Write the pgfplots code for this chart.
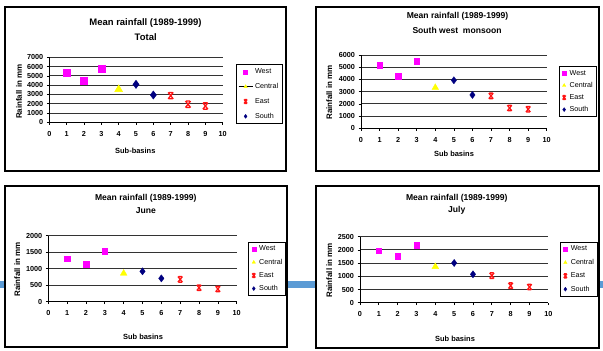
\documentclass[border=0pt]{standalone}
\usepackage{fontspec}
\setmainfont{Liberation Sans}
\usepackage{pgfplots}
\pgfplotsset{compat=1.18}

\definecolor{westc}{RGB}{255,0,255}
\definecolor{centc}{RGB}{255,255,0}
\definecolor{eastc}{RGB}{255,20,20}
\definecolor{southc}{RGB}{0,0,128}
\definecolor{barblue}{RGB}{91,155,213}

\pgfdeclareplotmark{eaststar}{%
  \pgfpathmoveto{\pgfqpoint{-0.8\pgfplotmarksize}{-\pgfplotmarksize}}%
  \pgfpathlineto{\pgfqpoint{0.8\pgfplotmarksize}{\pgfplotmarksize}}%
  \pgfpathmoveto{\pgfqpoint{-0.8\pgfplotmarksize}{\pgfplotmarksize}}%
  \pgfpathlineto{\pgfqpoint{0.8\pgfplotmarksize}{-\pgfplotmarksize}}%
  \pgfpathmoveto{\pgfqpoint{-0.6\pgfplotmarksize}{\pgfplotmarksize}}%
  \pgfpathlineto{\pgfqpoint{0.6\pgfplotmarksize}{\pgfplotmarksize}}%
  \pgfpathmoveto{\pgfqpoint{-0.6\pgfplotmarksize}{-\pgfplotmarksize}}%
  \pgfpathlineto{\pgfqpoint{0.6\pgfplotmarksize}{-\pgfplotmarksize}}%
  \pgfusepathqstroke}

\pgfplotsset{
  rain/.style={
    scale only axis, xmin=0, xmax=10, ymin=0,
    xtick={0,1,...,10},
    axis x line*=bottom, axis y line*=left,
    axis line style={black,line width=0.7pt},
    tick style={black,line width=0.7pt},
    major tick length=2.5bp,
    tick align=outside,
    ymajorgrids,
    grid style={black!80,line width=0.9pt},
    /pgf/number format/1000 sep={},
    /pgf/number format/assume math mode=true,
    ticklabel style={font=\bfseries\fontsize{7.3}{8}\selectfont},
    xticklabel style={yshift=-3bp},
    clip=false,
    legend cell align=left,
    legend style={draw=black, line width=0.9pt, fill=white, anchor=north west,
      font=\fontsize{7.2}{8.6}\selectfont, inner xsep=1.5bp, inner ysep=1.8bp},
    legend image code/.code={\path (0bp,0bp) (6bp,0bp); \draw[##1] plot coordinates {(3bp,0bp)};},
    every legend image post/.append style={mark size=2bp},
  },
  widelegend/.style={
    legend image code/.code={\path (0bp,0bp) (14bp,0bp); \draw[##1] plot coordinates {(7bp,0bp)};}},
  centline/.style={
    legend image code/.code={\draw[black,line width=0.6pt] (0bp,0bp) -- (14bp,0bp); \draw[##1] plot coordinates {(7bp,0bp)};}},
  west/.style={only marks, mark=square*, mark size=#1, mark options={fill=westc, draw=westc, line width=0.3pt}},
  cent/.style={only marks, mark=triangle*, mark size=#1, mark options={fill=centc, draw=centc, line width=0.3pt}},
  east/.style={only marks, mark=eaststar, mark size=#1, mark options={draw=eastc, line width=1.3pt}},
  south/.style={only marks, mark=diamond*, mark size=#1, mark options={fill=southc, draw=southc, line width=0.3pt}},
}

\begin{document}
\begin{tikzpicture}[x=1bp,y=1bp]
\path[use as bounding box] (0,0) rectangle (603,350);
% blue decorative bar
\fill[barblue] (0,62) rectangle (603,69);
% chart boxes
\filldraw[fill=white, draw=black, line width=1.1pt] (5,179) rectangle (286,343);
\filldraw[fill=white, draw=black, line width=1.1pt] (316,179) rectangle (599,343);
\filldraw[fill=white, draw=black, line width=1.1pt] (5,3) rectangle (287,164);
\filldraw[fill=white, draw=black, line width=1.1pt] (316,2) rectangle (599,164);

% ---------- Total ----------
\begin{axis}[rain, widelegend, at={(49.3bp,227.7bp)}, anchor=south west,
  width=173.4bp, height=65bp, ymax=7000, ytick={0,1000,...,7000},
  legend style={at={(1.075,0.892)}, row sep=4.3bp, inner xsep=2bp}]
\addplot[west=3.4bp] coordinates {(1,5350) (2,4450) (3,5750)};
\addplot[cent=4.6bp, centline] coordinates {(4,3550)};
\addplot[east=3.2bp] coordinates {(7,2870) (8,1940) (9,1760)};
\addplot[south=4.2bp] coordinates {(5,4090) (6,2940)};
\legend{West,Central,East,South}
\end{axis}

% ---------- South west monsoon ----------
\begin{axis}[rain, at={(361bp,221.7bp)}, anchor=south west,
  width=185.7bp, height=73.3bp, ymax=6000, ytick={0,1000,...,6000},
  legend style={at={(1.065,0.850)}, row sep=1.5bp}]
\addplot[west=2.8bp] coordinates {(1,5150) (2,4280) (3,5480)};
\addplot[cent=3.9bp] coordinates {(4,3330)};
\addplot[east=2.8bp] coordinates {(7,2650) (8,1660) (9,1560)};
\addplot[south=3.6bp] coordinates {(5,3930) (6,2730)};
\legend{West,Central,East,South}
\end{axis}

% ---------- June ----------
\begin{axis}[rain, at={(48.3bp,48.3bp)}, anchor=south west,
  width=188.4bp, height=66bp, ymax=2000, ytick={0,500,...,2000},
  legend style={at={(1.062,0.909)}, row sep=2.6bp}]
\addplot[west=2.8bp] coordinates {(1,1300) (2,1130) (3,1535)};
\addplot[cent=3.9bp] coordinates {(4,860)};
\addplot[east=2.8bp] coordinates {(7,677) (8,424) (9,384)};
\addplot[south=3.6bp] coordinates {(5,920) (6,707)};
\legend{West,Central,East,South}
\end{axis}

% ---------- July ----------
\begin{axis}[rain, at={(360bp,47.3bp)}, anchor=south west,
  width=188.3bp, height=66bp, ymax=2500, ytick={0,500,...,2500},
  legend style={at={(1.062,0.924)}, row sep=2.8bp}]
\addplot[west=2.8bp] coordinates {(1,1970) (2,1755) (3,2185)};
\addplot[cent=3.9bp] coordinates {(4,1365)};
\addplot[east=2.8bp] coordinates {(7,1025) (8,645) (9,595)};
\addplot[south=3.6bp] coordinates {(5,1505) (6,1075)};
\legend{West,Central,East,South}
\end{axis}

% ---------- texts ----------
\begin{scope}[every node/.style={font=\bfseries\fontsize{9.5}{11}\selectfont, inner sep=0pt}]
\node at (145.5,327.3) {Mean rainfall (1989-1999)};
\node at (145.7,313.3) {Total};
\end{scope}
\begin{scope}[every node/.style={font=\bfseries\fontsize{8.6}{10}\selectfont, inner sep=0pt}]
\node at (457.5,333.3) {Mean rainfall (1989-1999)};
\node at (457,320) {South west\ \ monsoon};
\node at (145.8,151.7) {Mean rainfall (1989-1999)};
\node at (145.8,139.3) {June};
\node at (456.8,151.7) {Mean rainfall (1989-1999)};
\node at (456.8,139.3) {July};
\end{scope}
\begin{scope}[every node/.style={font=\bfseries\fontsize{7.5}{9}\selectfont, inner sep=0pt}]
\node at (135.3,199) {Sub-basins};
\node at (454,196) {Sub basins};
\node at (143,13) {Sub basins};
\node at (455,11) {Sub basins};
\end{scope}
\begin{scope}[every node/.style={font=\bfseries\fontsize{8}{9}\selectfont, inner sep=0pt, rotate=90}]
\node at (19,258.3) {Rainfall in mm};
\node at (329.3,257.5) {Rainfall in mm};
\node at (17.3,80.5) {Rainfall in mm};
\node at (329.3,79.7) {Rainfall in mm};
\end{scope}
\end{tikzpicture}
\end{document}
